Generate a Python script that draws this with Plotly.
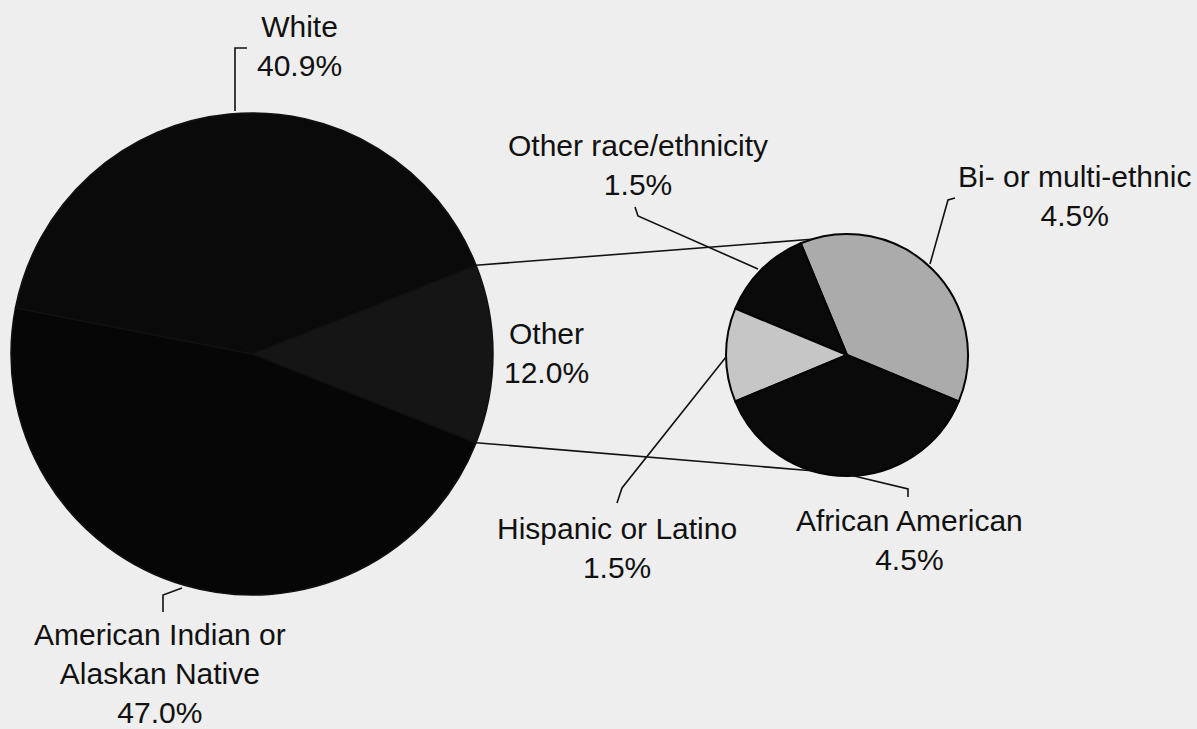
import math
import plotly.graph_objects as go

W, H = 1197, 729

# ---- data ----
main_labels = ["Other", "White", "American Indian or<br>Alaskan Native"]
main_values = [12.0, 40.9, 47.0]
sub_labels = ["Bi- or multi-ethnic", "Other race/ethnicity", "Hispanic or Latino", "African American"]
sub_values = [4.5, 1.5, 1.5, 4.5]

# ---- geometry / style ----
C1, R1 = (252, 354), 241   # main pie centre & radius (pixels)
C2, R2 = (847, 355), 121   # secondary pie
FS = 30
FONT = "Liberation Sans, Arial, Helvetica, sans-serif"
BG = "#eeeeee"


def px(x, y):
    return x / W, 1 - y / H


def domain(c, r):
    return dict(x=[(c[0] - r) / W, (c[0] + r) / W],
                y=[1 - (c[1] + r) / H, 1 - (c[1] - r) / H])


half = 3.6 * main_values[0] / 2

fig = go.Figure()
fig.add_trace(go.Pie(
    labels=main_labels, values=main_values, sort=False,
    direction="counterclockwise", rotation=90 - half,
    textinfo="none", hoverinfo="label+value",
    marker=dict(colors=["#151515", "#0a0a0a", "#060606"],
                line=dict(color="#111111", width=1.5)),
    domain=domain(C1, R1), showlegend=False,
))
fig.add_trace(go.Pie(
    labels=sub_labels, values=sub_values, sort=False,
    direction="counterclockwise", rotation=-22.5,
    textinfo="none", hoverinfo="label+value",
    marker=dict(colors=["#ababab", "#0a0a0a", "#c6c6c6", "#0a0a0a"],
                line=dict(color="#050505", width=2)),
    domain=domain(C2, R2), showlegend=False,
))


def edge(c, r, deg):
    a = math.radians(deg)
    return c[0] + r * math.cos(a), c[1] - r * math.sin(a)


connectors = [
    [edge(C1, R1, half), edge(C2, R2, 107)],
    [edge(C1, R1, -half), edge(C2, R2, -107)],
]
leaders = [
    [(235, 111), (235, 48), (247, 48)],                 # White
    [(182, 588), (163, 595), (163, 612)],               # American Indian
    [(758, 269), (638, 216), (635, 207)],               # Other race
    [(726, 357), (622, 488), (617, 503)],               # Hispanic
    [(850, 475), (908, 489), (908, 497)],               # African American
    [(930, 264), (948, 200), (955, 198)],               # Bi-
]

shapes = []
for poly in connectors + leaders:
    pts = [px(*p) for p in poly]
    path = "M " + " L ".join(f"{x:.5f},{y:.5f}" for x, y in pts)
    shapes.append(dict(type="path", path=path, xref="paper", yref="paper",
                       line=dict(color="#111111", width=1.6), layer="above"))

labels = [
    ("White<br>40.9%", 299, 38),
    ("Other race/ethnicity<br>1.5%", 638, 157),
    ("Other<br>12.0%", 546, 345),
    ("Bi- or multi-ethnic<br>4.5%", 1074, 188),
    ("Hispanic or Latino<br>1.5%", 617, 540),
    ("African American<br>4.5%", 909, 532),
    ("American Indian or<br>Alaskan Native<br>47.0%", 160, 646),
]
annotations = []
for txt, x, b1 in labels:
    ax, ay = px(x, b1 - 0.985 * FS)
    annotations.append(dict(text=txt, x=ax, y=ay, xref="paper", yref="paper",
                            xanchor="center", yanchor="top", showarrow=False,
                            align="center",
                            font=dict(family=FONT, size=FS, color="#111111")))

fig.update_layout(
    width=W, height=H, margin=dict(l=0, r=0, t=0, b=0),
    paper_bgcolor=BG, plot_bgcolor=BG,
    shapes=shapes, annotations=annotations,
)
fig.write_html("out.html")
